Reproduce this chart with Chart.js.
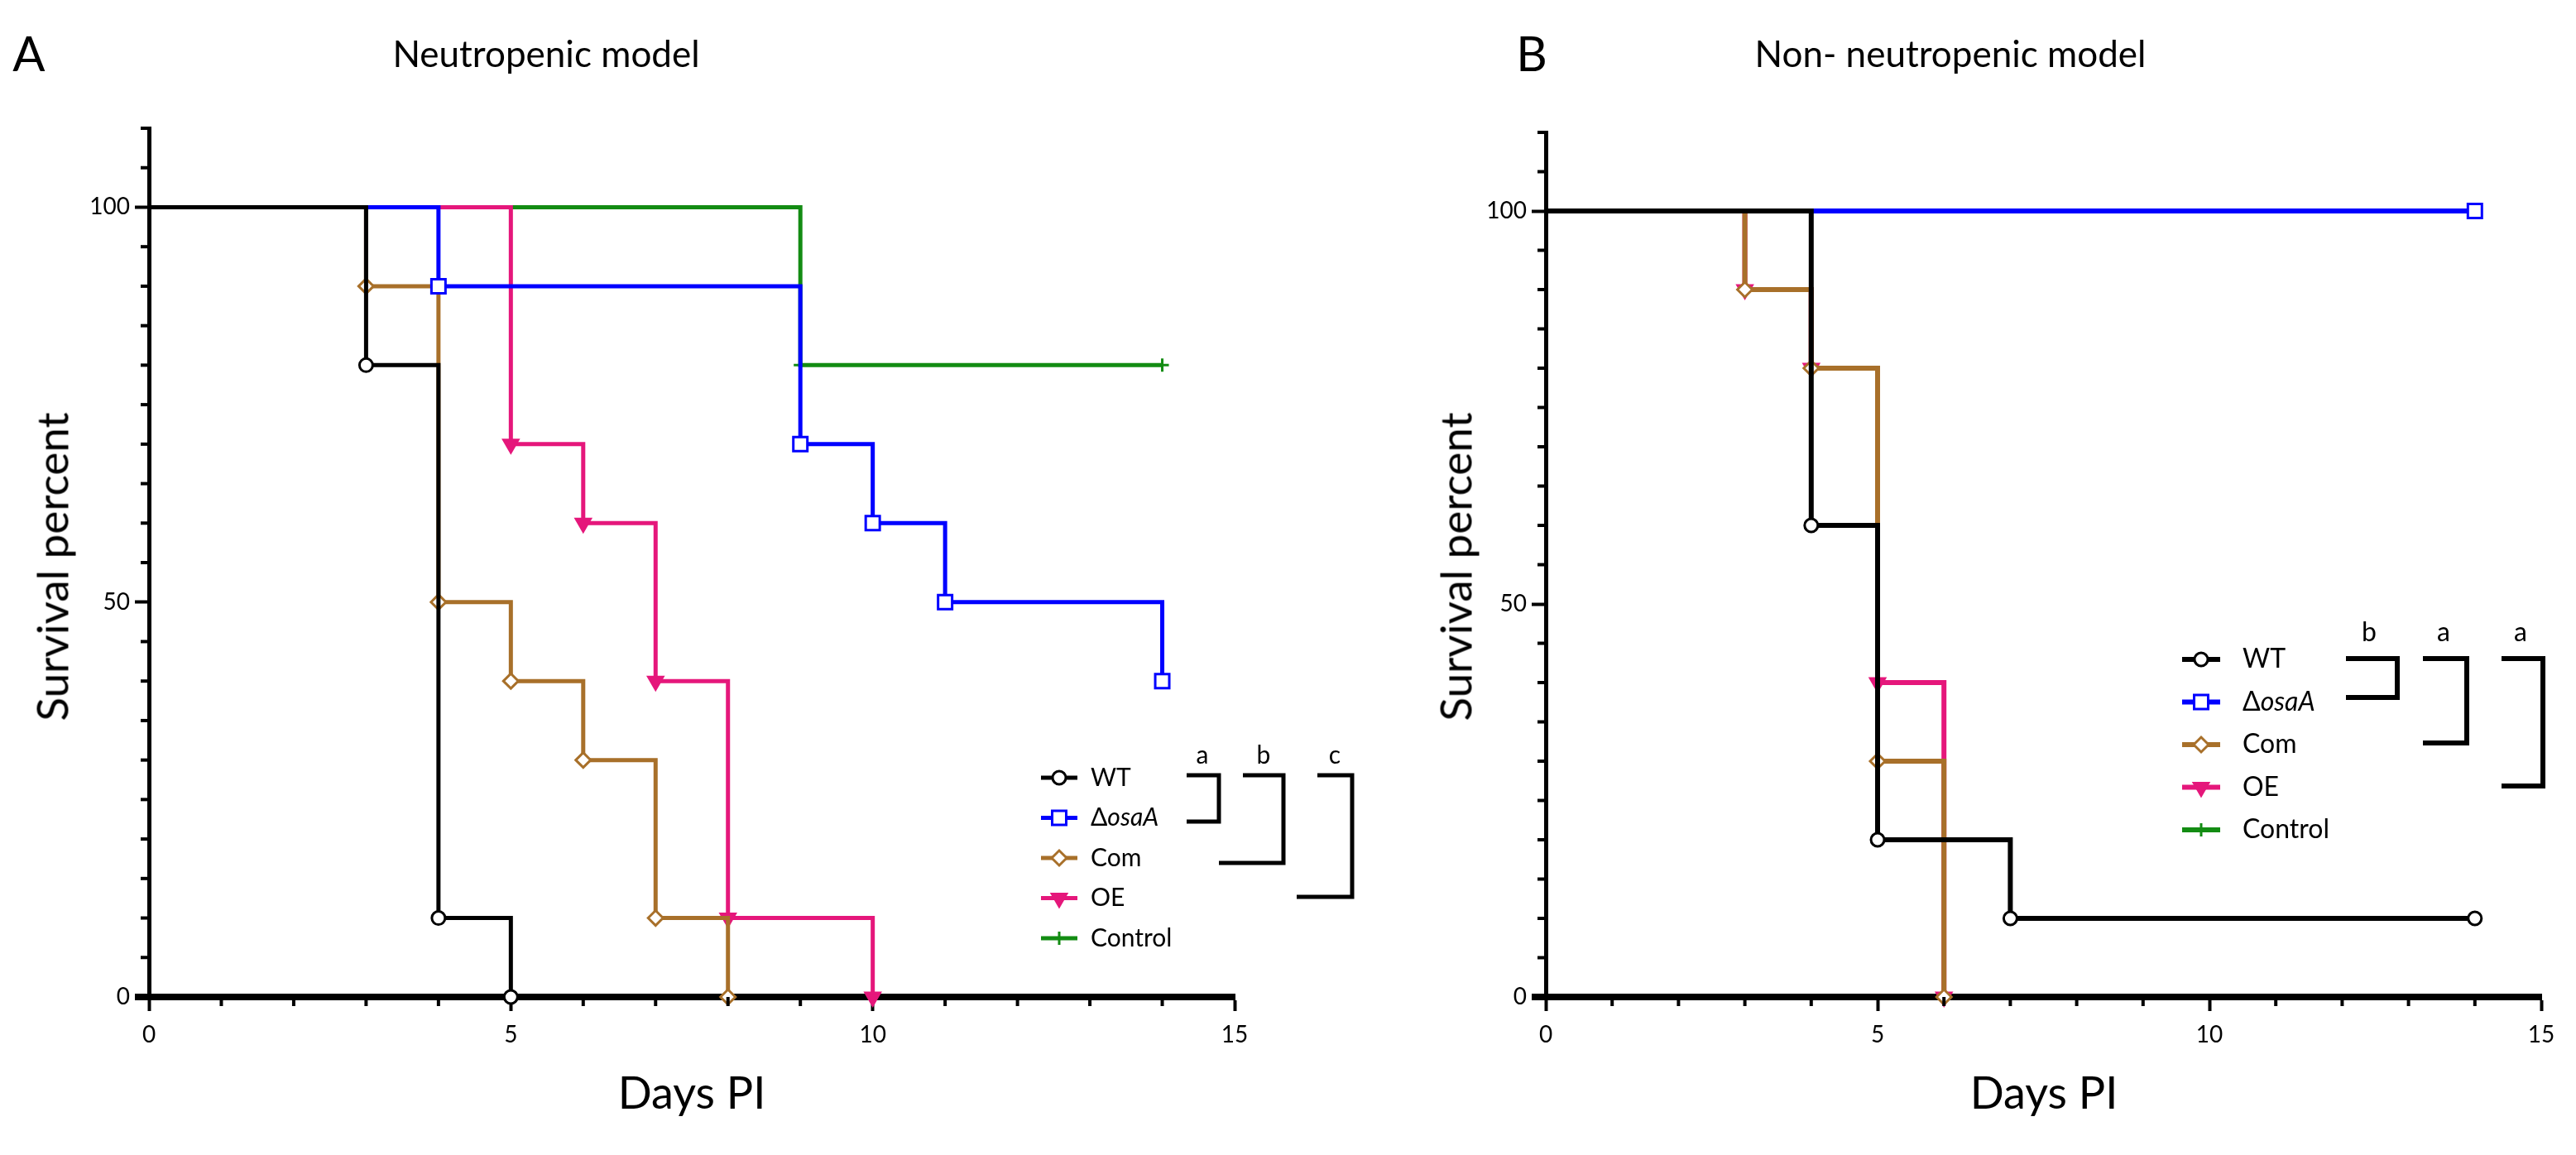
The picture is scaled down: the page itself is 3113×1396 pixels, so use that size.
<!DOCTYPE html>
<html>
<head>
<meta charset="utf-8">
<script src="https://cdn.jsdelivr.net/npm/chart.js@4.4.1/dist/chart.umd.min.js"></script>
<style>
  body { margin: 0; background: #fff; width: 3113px; height: 1396px; position: relative; overflow: hidden;
         font-family: Lato, "Noto Sans", sans-serif; color: #000; }
  canvas { position: absolute; top: 0; }
  .t { position: absolute; white-space: nowrap; line-height: 1; transform: translate(-50%, -50%); }
  .rot { transform: translate(-50%, -50%) rotate(-90deg); }
</style>
</head>
<body>
<canvas id="nonNeutro" width="1557" height="1396" style="left:1556px;width:1557px;height:1396px"></canvas>
<canvas id="neutro" width="1700" height="1396" style="left:0;width:1700px;height:1396px"></canvas>

<div class="t" style="left:35px;top:64px;font-size:58px">A</div>
<div class="t" style="left:660px;top:64px;font-size:44px">Neutropenic model</div>
<div class="t rot" style="left:62px;top:685px;font-size:53px">Survival percent</div>
<div class="t" style="left:836px;top:1320px;font-size:54px">Days PI</div>

<div class="t" style="left:1851px;top:64px;font-size:58px">B</div>
<div class="t" style="left:2357px;top:64px;font-size:44px">Non- neutropenic model</div>
<div class="t rot" style="left:1758px;top:685px;font-size:53px">Survival percent</div>
<div class="t" style="left:2470px;top:1320px;font-size:54px">Days PI</div>

<script>
// groups, same order as the legend
const groupNames = ['WT', 'ΔosaA', 'Com', 'OE', 'Control'];

// neutropenic model: day of each step and survival (%) after it
const neuWtDays = [0, 3, 4, 5];
const neuWtSurv = [100, 80, 10, 0];
const neuOsaDays = [0, 4, 9, 10, 11, 14];
const neuOsaSurv = [100, 90, 70, 60, 50, 40];
const neuComDays = [0, 3, 4, 5, 6, 7, 8];
const neuComSurv = [100, 90, 50, 40, 30, 10, 0];
const neuOeDays = [0, 5, 6, 7, 8, 10];
const neuOeSurv = [100, 70, 60, 40, 10, 0];
const neuCtrlDays = [0, 9, 14];
const neuCtrlSurv = [100, 80, 80];

// non-neutropenic model
const nonWtDays = [0, 4, 5, 7, 14];
const nonWtSurv = [100, 60, 20, 10, 10];
const nonOsaDays = [0, 14];
const nonOsaSurv = [100, 100];
const nonComDays = [0, 3, 4, 5, 6];
const nonComSurv = [100, 90, 80, 30, 0];
const nonOeDays = [0, 3, 4, 5, 6];
const nonOeSurv = [100, 90, 80, 40, 0];
const nonCtrlDays = [0, 14];
const nonCtrlSurv = [100, 100];

// labelled ticks
const yTickLabels = [0, 50, 100];
const xTickLabels = [0, 5, 10, 15];

// significance letters over the brackets
const neuLetters = ['a', 'b', 'c'];
const nonLetters = ['b', 'a', 'a'];

const FONT = 'Lato, "Noto Sans", sans-serif';

const looks = [
  { color: '#000000', pointStyle: 'circle',   radius: 8,  fill: '#ffffff', rotation: 0 },
  { color: '#0000ff', pointStyle: 'rect',     radius: 12, fill: '#ffffff', rotation: 0 },
  { color: '#a8702a', pointStyle: 'rectRot',  radius: 9,  fill: '#ffffff', rotation: 0 },
  { color: '#e5177b', pointStyle: 'triangle', radius: 10, fill: '#e5177b', rotation: 180 },
  { color: '#138c13', pointStyle: 'cross',    radius: 8,  fill: '#138c13', rotation: 0 }
];

function toPoints(days, surv) {
  return days.map((d, i) => ({ x: d, y: surv[i] }));
}

function makeDatasets(list, lineWidth) {
  return list.map((pts, i) => {
    var lk = looks[i];
    return {
      label: groupNames[i],
      data: pts,
      stepped: true,
      fill: false,
      clip: false,
      borderColor: lk.color,
      borderWidth: lineWidth,
      pointStyle: lk.pointStyle,
      pointRotation: lk.rotation,
      pointRadius: c => c.dataIndex === 0 ? 0 : lk.radius,
      pointHoverRadius: c => c.dataIndex === 0 ? 0 : lk.radius,
      pointBorderColor: lk.color,
      pointBackgroundColor: lk.fill,
      pointBorderWidth: 3
    };
  });
}

function drawMark(ctx, lk, x, y) {
  if (Chart.helpers && Chart.helpers.drawPoint) {
    Chart.helpers.drawPoint(ctx, { pointStyle: lk.pointStyle, rotation: lk.rotation, radius: lk.radius, borderWidth: 3 }, x, y);
  } else {
    ctx.beginPath();
    ctx.arc(x, y, lk.radius, 0, Math.PI * 2);
    ctx.fill();
    ctx.stroke();
  }
}

// minor ticks, legend and significance brackets
const panelExtras = {
  id: 'panelExtras',
  afterDraw(chart, args, opts) {
    var ctx = chart.ctx, a = chart.chartArea;
    var xs = chart.scales.x, ys = chart.scales.y;
    function seg(x1, y1, x2, y2) { ctx.beginPath(); ctx.moveTo(x1, y1); ctx.lineTo(x2, y2); ctx.stroke(); }
    ctx.save();
    ctx.strokeStyle = '#000';
    ctx.lineWidth = 4;
    ys.ticks.forEach(t => {
      if (yTickLabels.includes(t.value)) return;
      var py = ys.getPixelForValue(t.value);
      seg(a.left, py, a.left - 10, py);
    });
    xs.ticks.forEach(t => {
      if (xTickLabels.includes(t.value)) return;
      var px = xs.getPixelForValue(t.value);
      seg(px, a.bottom, px, a.bottom + 11);
    });
    ctx.lineWidth = opts.xAxisWidth;
    seg(a.left - 17, a.bottom, a.left, a.bottom);

    // legend
    var L = opts.legend;
    ctx.textBaseline = 'middle';
    groupNames.forEach((name, i) => {
      var y = L.y0 + i * L.gap, lk = looks[i];
      ctx.strokeStyle = lk.color;
      ctx.lineWidth = L.lineWidth;
      seg(L.x1, y, L.x2, y);
      ctx.fillStyle = lk.fill;
      ctx.lineWidth = 3;
      drawMark(ctx, lk, (L.x1 + L.x2) / 2, y);
      ctx.fillStyle = '#000';
      ctx.textAlign = 'left';
      ctx.font = L.size + 'px ' + FONT;
      if (name.charAt(0) === 'Δ') {
        ctx.fillText('Δ', L.tx, y);
        var w = ctx.measureText('Δ').width;
        ctx.font = 'italic ' + L.size + 'px ' + FONT;
        ctx.fillText(name.slice(1), L.tx + w, y);
      } else {
        ctx.fillText(name, L.tx, y);
      }
    });

    // brackets
    ctx.strokeStyle = '#000';
    ctx.lineWidth = opts.bracketWidth;
    ctx.lineJoin = 'miter';
    ctx.textAlign = 'center';
    ctx.font = L.size + 'px ' + FONT;
    opts.brackets.forEach((b, i) => {
      ctx.beginPath();
      ctx.moveTo(b.x1top, b.yTop);
      ctx.lineTo(b.x2, b.yTop);
      ctx.lineTo(b.x2, b.yBot);
      ctx.lineTo(b.x1bot, b.yBot);
      ctx.stroke();
      ctx.fillText(opts.letters[i], b.lx, opts.letterY);
    });
    ctx.restore();
  }
};

function axisOptions() {
  return {
    x: {
      type: 'linear', min: 0, max: 15,
      afterFit: s => { s.height = 100; },
      grid: { drawOnChartArea: false, drawTicks: true, tickLength: 17, tickWidth: 4,
              tickColor: c => xTickLabels.includes(c.tick.value) ? '#000' : 'rgba(0,0,0,0)' },
      border: { display: true, color: '#000', width: 8 },
      ticks: { stepSize: 1, autoSkip: false, maxRotation: 0, padding: 12, color: '#000',
               font: { family: FONT, size: 28 },
               callback: v => xTickLabels.includes(v) ? String(v) : '' }
    },
    y: {
      type: 'linear', min: 0, max: 110,
      afterFit: s => { s.width = 80; },
      grid: { drawOnChartArea: false, drawTicks: true, tickLength: 17, tickWidth: 4,
              tickColor: c => yTickLabels.includes(c.tick.value) ? '#000' : 'rgba(0,0,0,0)' },
      border: { display: true, color: '#000', width: 5 },
      ticks: { stepSize: 5, autoSkip: false, padding: 6, color: '#000',
               font: { family: FONT, size: 28 },
               callback: v => yTickLabels.includes(v) ? String(v) : '' }
    }
  };
}

function makeChart(id, datasets, padding, extras) {
  return new Chart(document.getElementById(id), {
    type: 'line',
    data: { datasets: datasets },
    options: {
      responsive: false,
      animation: false,
      devicePixelRatio: 1,
      layout: { padding: padding },
      scales: axisOptions(),
      plugins: {
        legend: { display: false },
        tooltip: { enabled: false },
        panelExtras: extras
      }
    },
    plugins: [panelExtras]
  });
}

var neuSets = makeDatasets([
  toPoints(neuWtDays, neuWtSurv),
  toPoints(neuOsaDays, neuOsaSurv),
  toPoints(neuComDays, neuComSurv),
  toPoints(neuOeDays, neuOeSurv),
  toPoints(neuCtrlDays, neuCtrlSurv)
], 5);

makeChart('neutro', neuSets, { left: 100, right: 208, top: 155, bottom: 91 }, {
  xAxisWidth: 8,
  bracketWidth: 5,
  legend: { x1: 1258, x2: 1302, tx: 1318, y0: 940, gap: 48.5, size: 30, lineWidth: 5 },
  letters: neuLetters,
  letterY: 913,
  brackets: [
    { lx: 1453, x1top: 1434, x1bot: 1434, x2: 1473, yTop: 937, yBot: 993 },
    { lx: 1527, x1top: 1502, x1bot: 1473, x2: 1551, yTop: 937, yBot: 1043 },
    { lx: 1613, x1top: 1592, x1bot: 1567, x2: 1634, yTop: 937, yBot: 1084 }
  ]
});

var nonSets = makeDatasets([
  toPoints(nonWtDays, nonWtSurv),
  toPoints(nonOsaDays, nonOsaSurv),
  toPoints(nonComDays, nonComSurv),
  toPoints(nonOeDays, nonOeSurv),
  toPoints(nonCtrlDays, nonCtrlSurv)
], 6);

makeChart('nonNeutro', nonSets, { left: 232, right: 42, top: 160, bottom: 91 }, {
  xAxisWidth: 8,
  bracketWidth: 6,
  legend: { x1: 1081, x2: 1127, tx: 1154, y0: 797, gap: 51.5, size: 32, lineWidth: 6 },
  letters: nonLetters,
  letterY: 765,
  brackets: [
    { lx: 1307, x1top: 1279, x1bot: 1279, x2: 1341, yTop: 796, yBot: 843 },
    { lx: 1397, x1top: 1372, x1bot: 1372, x2: 1425, yTop: 796, yBot: 898 },
    { lx: 1490, x1top: 1467, x1bot: 1467, x2: 1517, yTop: 796, yBot: 950 }
  ]
});
</script>
</body>
</html>
